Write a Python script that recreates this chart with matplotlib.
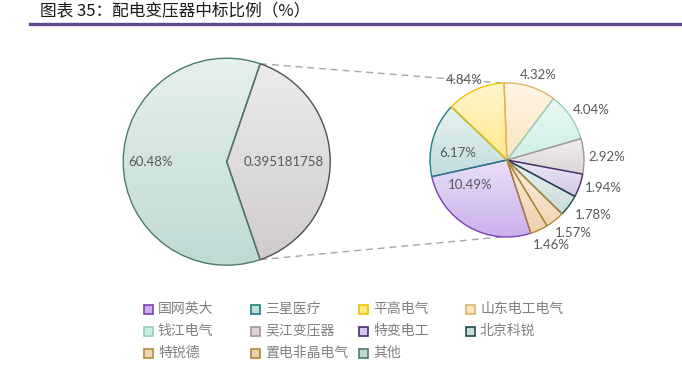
import numpy as np
import matplotlib
matplotlib.use("Agg")
import matplotlib.pyplot as plt
from matplotlib.colors import LinearSegmentedColormap, to_rgb
from matplotlib.patches import Rectangle

plt.rcParams['font.family'] = ['Noto Sans CJK SC', 'DejaVu Sans']

# ---------------- data ----------------
title = "图表 35：配电变压器中标比例（%）"
main_labels = ["其他", "其余"]
main_values = [60.48, 39.5181758]
main_texts = ["60.48%", "0.395181758"]

sub_labels = ["国网英大", "三星医疗", "平高电气", "山东电工电气", "钱江电气",
              "吴江变压器", "特变电工", "北京科锐", "特锐德", "置电非晶电气"]
sub_values = [10.49, 6.17, 4.84, 4.32, 4.04, 2.92, 1.94, 1.78, 1.57, 1.46]
sub_texts = ["10.49%", "6.17%", "4.84%", "4.32%", "4.04%",
             "2.92%", "1.94%", "1.78%", "1.57%", "1.46%"]

legend_labels = ["国网英大", "三星医疗", "平高电气", "山东电工电气",
                 "钱江电气", "吴江变压器", "特变电工", "北京科锐",
                 "特锐德", "置电非晶电气", "其他"]

# ---------------- styles ----------------
sub_fill = ["#c9b0ec", "#c2dcdc", "#ffe88a", "#fbe6c0", "#cdeee4",
            "#dcd6d6", "#d2c8e6", "#c9dcd9", "#f2d6b4", "#efd0ae"]
sub_edge = ["#7b3fb3", "#1f7f7f", "#efc300", "#dcb46a", "#98cdbd",
            "#a39696", "#4b2b72", "#1e4c4a", "#b48c3c", "#ad8534"]
other_fill = "#c0dad4"
other_edge = "#4d7b6d"
rest_fill = "#d0cccc"
rest_edge = "#505050"

legend_fill = sub_fill + [other_fill]
legend_edge = sub_edge + [other_edge]

sub_label_r = [0.58, 0.65, 1.18, 1.17, 1.27, 1.30, 1.30, 1.33, 1.28, 1.24]
sub_label_shift = [-26, 8, 4, -2.5, -4, -1, 3, 4, 4, 3]

W, H = 682, 375
c1, r1 = (226.7, 213.3), 103.5
c2, r2 = (507.0, 215.0), 77.0
label_color = "#595959"

fig = plt.figure(figsize=(W / 100, H / 100), dpi=100)
ax = fig.add_axes([0, 0, 1, 1])


def lighten(c, f):
    c = np.array(to_rgb(c))
    return tuple(c + (1 - c) * f)


def gradient_fill(wedge, base):
    ext = wedge.get_patch_transform().transform_path(wedge.get_path()).get_extents()
    cmap = LinearSegmentedColormap.from_list("g", [base, lighten(base, 0.6)])
    grad = np.linspace(0, 1, 256).reshape(-1, 1)
    im = ax.imshow(grad, extent=[ext.x0, ext.x1, ext.y0, ext.y1], origin="lower",
                   cmap=cmap, aspect="auto", interpolation="bilinear", zorder=1)
    im.set_clip_path(wedge)
    wedge.set_facecolor("none")
    wedge.set_zorder(2)


# main pie
rest_share = main_values[1] / sum(main_values)
w_main, _ = ax.pie(main_values[::-1], center=c1, radius=r1,
                   startangle=-rest_share * 180, counterclock=True,
                   colors=[rest_fill, other_fill],
                   wedgeprops=dict(linewidth=1.0))
w_main[0].set_edgecolor(rest_edge)
w_main[1].set_edgecolor(other_edge)
gradient_fill(w_main[0], rest_fill)
gradient_fill(w_main[1], other_fill)

main_label_r = [0.55, 0.74]
for w, t, lr in zip(w_main, main_texts[::-1], main_label_r):
    a = np.deg2rad((w.theta1 + w.theta2) / 2)
    ax.text(c1[0] + lr * r1 * np.cos(a), c1[1] + lr * r1 * np.sin(a), t,
            ha="center", va="center", fontsize=9.5, color=label_color,
            family=["Lato", "DejaVu Sans"], zorder=5)

# sub pie
start2 = 288.0
w_sub, _ = ax.pie(sub_values, center=c2, radius=r2, startangle=start2,
                  counterclock=False, colors=sub_fill,
                  wedgeprops=dict(linewidth=1.0))
for w, f, e in zip(w_sub, sub_fill, sub_edge):
    w.set_edgecolor(e)
    gradient_fill(w, f)

for w, t, lr, sh in zip(w_sub, sub_texts, sub_label_r, sub_label_shift):
    a = np.deg2rad((w.theta1 + w.theta2) / 2 + sh)
    ax.text(c2[0] + lr * r2 * np.cos(a), c2[1] + lr * r2 * np.sin(a), t,
            ha="center", va="center", fontsize=9.5, color=label_color,
            family=["Lato", "DejaVu Sans"], zorder=5)

# connector lines
a_top = np.deg2rad(rest_share * 180)
p_top = (c1[0] + r1 * np.cos(a_top), c1[1] + r1 * np.sin(a_top))
p_bot = (c1[0] + r1 * np.cos(-a_top), c1[1] + r1 * np.sin(-a_top))
ax.plot([p_top[0], c2[0] - 6], [p_top[1], c2[1] + r2], ls=(0, (5, 3.5)),
        color="#a6a6a6", lw=1.0, zorder=0)
ax.plot([p_bot[0], c2[0] - 6], [p_bot[1], c2[1] - r2], ls=(0, (5, 3.5)),
        color="#a6a6a6", lw=1.0, zorder=0)

ax.set_xlim(0, W)
ax.set_ylim(0, H)
ax.set_aspect("equal")
ax.axis("off")

# title and rule
fig.text(40 / W, 1 - 12 / H, title, fontsize=12, color="#1a1a1a",
         ha="left", va="center")
fig.add_artist(plt.Line2D([30 / W, 1], [1 - 24 / H, 1 - 24 / H],
                          color="#5f4b8b", lw=2.4, transform=fig.transFigure))

# legend (row-major grid)
col_x = [144, 251, 359, 466]
row_y = [309, 331, 353]
for i, (lab, fc, ec) in enumerate(zip(legend_labels, legend_fill, legend_edge)):
    r, c = divmod(i, 4)
    x, y = col_x[c], row_y[r]
    fig.add_artist(Rectangle((x / W, 1 - (y + 4.5) / H), 9 / W, 9 / H,
                             facecolor=fc, edgecolor=ec, lw=1.2,
                             transform=fig.transFigure))
    fig.text((x + 14) / W, 1 - y / H, lab, fontsize=10, color="#808080",
             ha="left", va="center")

fig.savefig("out.png", dpi=100)
